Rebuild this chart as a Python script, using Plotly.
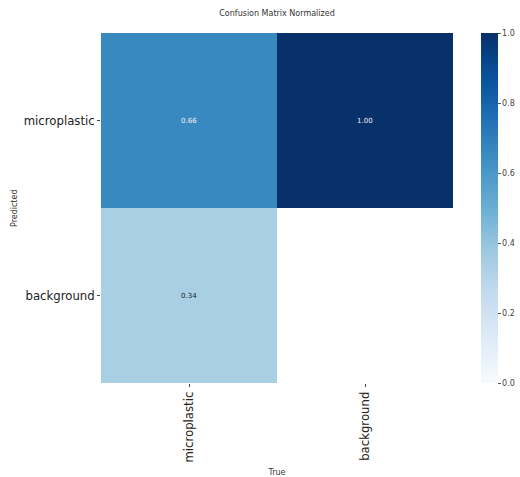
import plotly.graph_objects as go

true_labels = ["microplastic", "background"]
pred_labels = ["microplastic", "background"]
values = [
    [0.66, 1.00],
    [0.34, None],
]
colorbar_ticks = [0.0, 0.2, 0.4, 0.6, 0.8, 1.0]

blues = [
    [0.0, "#f7fbff"], [0.125, "#deebf7"], [0.25, "#c6dbef"], [0.375, "#9ecae1"],
    [0.5, "#6baed6"], [0.625, "#4292c6"], [0.75, "#2171b5"], [0.875, "#08519c"],
    [1.0, "#08306b"],
]

font = "DejaVu Sans, Liberation Sans, sans-serif"

fig = go.Figure(go.Heatmap(
    x=true_labels, y=pred_labels, z=values,
    zmin=0, zmax=1, colorscale=blues, hoverongaps=False,
    colorbar=dict(
        x=1.0795, xanchor="left", y=0.5, yanchor="middle", len=1.0, lenmode="fraction",
        thickness=17, outlinewidth=0, xpad=0, ypad=0,
        tickvals=colorbar_ticks, ticktext=[f"{t:.1f}" for t in colorbar_ticks],
        ticks="outside", ticklen=3, tickcolor="#555", tickfont=dict(size=8, color="#444", family=font),
    ),
))

annotations = []
for i, p in enumerate(pred_labels):
    for j, t in enumerate(true_labels):
        v = values[i][j]
        if v is None:
            continue
        annotations.append(dict(
            x=t, y=p, text=f"{v:.2f}", showarrow=False,
            font=dict(size=7, family=font, color="#f0f0f0" if v > 0.5 else "#222"),
        ))

annotations.append(dict(
    text="Predicted", xref="paper", yref="paper", x=-0.247, y=0.5,
    xanchor="center", yanchor="middle", textangle=-90, showarrow=False,
    font=dict(size=8, color="#333", family=font),
))

fig.update_layout(
    width=520, height=477,
    margin=dict(l=101, r=67, t=33, b=94, autoexpand=False),
    paper_bgcolor="white", plot_bgcolor="white",
    title=dict(text="Confusion Matrix Normalized", x=0.5, xanchor="center", y=0.972, yanchor="middle",
               xref="paper", font=dict(size=8, color="#333", family=font)),
    annotations=annotations,
    font=dict(family=font),
)
fig.update_xaxes(
    automargin=False,
    tickangle=-90, tickfont=dict(size=11.7, color="#222", family=font),
    ticks="outside", ticklen=3, tickcolor="#444", showgrid=False, zeroline=False,
    title=dict(text="True", font=dict(size=8, color="#333", family=font)),
)
fig.update_yaxes(
    automargin=False,
    autorange="reversed", tickfont=dict(size=11.7, color="#222", family=font),
    ticks="outside", ticklen=3, tickcolor="#444", showgrid=False, zeroline=False,
)

fig.write_html("out.html")
